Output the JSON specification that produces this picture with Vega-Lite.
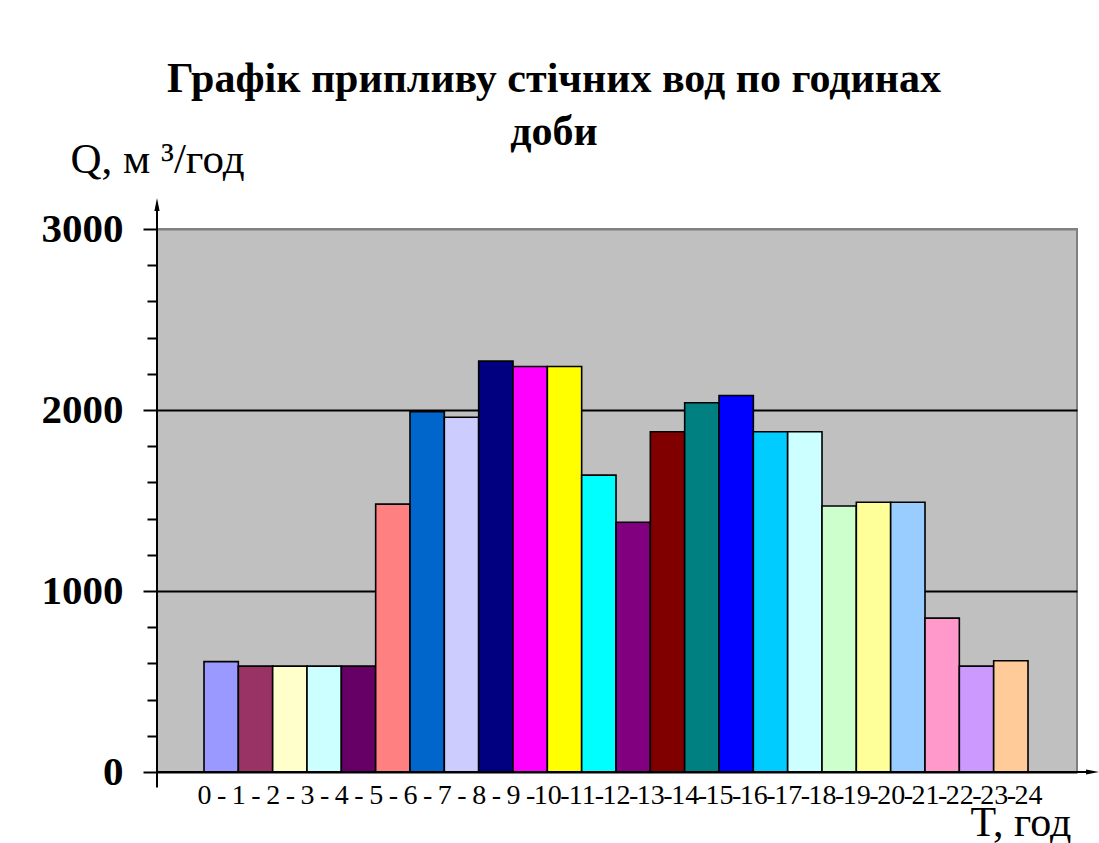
{
  "$schema": "https://vega.github.io/schema/vega-lite/v6.json",
  "width": 920,
  "height": 543,
  "autosize": {"type": "none"},
  "padding": {"left": 157, "top": 229, "right": 22, "bottom": 71},
  "background": "white",
  "config": {
    "view": {"fill": "#C0C0C0", "stroke": "#808080", "strokeWidth": 2},
    "font": "Liberation Serif"
  },
  "title": {
    "text": ["Графік припливу стічних вод по годинах", "доби"],
    "font": "Liberation Serif",
    "fontSize": 42,
    "fontWeight": "bold",
    "color": "black",
    "anchor": "middle",
    "frame": "group",
    "dx": -63,
    "dy": 20,
    "lineHeight": 53
  },
  "datasets": {
    "flow": [
      {"period": "0-1", "start": 0, "end": 1, "q": 610},
      {"period": "1-2", "start": 1, "end": 2, "q": 585},
      {"period": "2-3", "start": 2, "end": 3, "q": 585},
      {"period": "3-4", "start": 3, "end": 4, "q": 585},
      {"period": "4-5", "start": 4, "end": 5, "q": 585},
      {"period": "5-6", "start": 5, "end": 6, "q": 1480},
      {"period": "6-7", "start": 6, "end": 7, "q": 1990},
      {"period": "7-8", "start": 7, "end": 8, "q": 1960},
      {"period": "8-9", "start": 8, "end": 9, "q": 2270},
      {"period": "9-10", "start": 9, "end": 10, "q": 2240},
      {"period": "10-11", "start": 10, "end": 11, "q": 2240},
      {"period": "11-12", "start": 11, "end": 12, "q": 1640},
      {"period": "12-13", "start": 12, "end": 13, "q": 1380},
      {"period": "13-14", "start": 13, "end": 14, "q": 1880},
      {"period": "14-15", "start": 14, "end": 15, "q": 2040},
      {"period": "15-16", "start": 15, "end": 16, "q": 2080},
      {"period": "16-17", "start": 16, "end": 17, "q": 1880},
      {"period": "17-18", "start": 17, "end": 18, "q": 1880},
      {"period": "18-19", "start": 18, "end": 19, "q": 1470},
      {"period": "19-20", "start": 19, "end": 20, "q": 1490},
      {"period": "20-21", "start": 20, "end": 21, "q": 1490},
      {"period": "21-22", "start": 21, "end": 22, "q": 850},
      {"period": "22-23", "start": 22, "end": 23, "q": 585},
      {"period": "23-24", "start": 23, "end": 24, "q": 615}
    ]
  },
  "layer": [
    {
      "data": {"name": "flow"},
      "mark": {"type": "bar", "stroke": "black", "strokeWidth": 1.6},
      "encoding": {
        "x": {
          "field": "start",
          "type": "quantitative",
          "scale": {"domain": [-1.369, 25.427], "nice": false, "zero": false, "padding": 0},
          "axis": {
            "values": [0, 0.5, 1, 1.5, 2, 2.5, 3, 3.5, 4, 4.5, 5, 5.5, 6, 6.5, 7, 7.5, 8, 8.5, 9, 9.5, 10, 10.5, 11, 11.5, 12, 12.5, 13, 13.5, 14, 14.5, 15, 15.5, 16, 16.5, 17, 17.5, 18, 18.5, 19, 19.5, 20, 20.5, 21, 21.5, 22, 22.5, 23, 23.5, 24],
            "labelExpr": "datum.value % 1 === 0 ? '' + datum.value : '-'",
            "ticks": false,
            "domain": false,
            "grid": false,
            "labelFont": "Liberation Serif",
            "labelFontSize": 28,
            "labelColor": "black",
            "labelPadding": 9,
            "labelOverlap": false,
            "labelFlush": false,
            "labelBound": false,
            "title": "T, год",
            "titleX": 813,
            "titleY": 63,
            "titleAlign": "left",
            "titleBaseline": "alphabetic",
            "titleAngle": 0,
            "titleFont": "Liberation Serif",
            "titleFontSize": 42,
            "titleFontWeight": "normal",
            "titleColor": "black"
          }
        },
        "x2": {"field": "end"},
        "y": {
          "field": "q",
          "type": "quantitative",
          "scale": {"domain": [0, 3000], "nice": false, "padding": 0},
          "axis": {
            "orient": "left",
            "values": [0, 1000, 2000, 3000],
            "format": "d",
            "tickSize": 14,
            "tickWidth": 2,
            "tickColor": "black",
            "domain": false,
            "grid": true,
            "gridColor": {"condition": {"test": "datum.value === 3000", "value": "#808080"}, "value": "black"},
            "gridWidth": 2,
            "labelFont": "Liberation Serif",
            "labelFontSize": 41,
            "labelFontWeight": "bold",
            "labelColor": "black",
            "labelPadding": 20,
            "title": "Q, м ³/год",
            "titleAngle": 0,
            "titleX": -87,
            "titleY": -57,
            "titleAlign": "left",
            "titleBaseline": "alphabetic",
            "titleFont": "Liberation Serif",
            "titleFontSize": 43,
            "titleFontWeight": "normal",
            "titleColor": "black"
          }
        },
        "y2": {"datum": 0},
        "color": {
          "field": "period",
          "type": "nominal",
          "legend": null,
          "scale": {
            "domain": ["0-1", "1-2", "2-3", "3-4", "4-5", "5-6", "6-7", "7-8", "8-9", "9-10", "10-11", "11-12", "12-13", "13-14", "14-15", "15-16", "16-17", "17-18", "18-19", "19-20", "20-21", "21-22", "22-23", "23-24"],
            "range": ["#9999FF", "#993366", "#FFFFCC", "#CCFFFF", "#660066", "#FF8080", "#0066CC", "#CCCCFF", "#000080", "#FF00FF", "#FFFF00", "#00FFFF", "#800080", "#800000", "#008080", "#0000FF", "#00CCFF", "#CCFFFF", "#CCFFCC", "#FFFF99", "#99CCFF", "#FF99CC", "#CC99FF", "#FFCC99"]
          }
        }
      }
    },
    {
      "data": {"values": [{}]},
      "mark": {"type": "rule", "color": "black", "strokeWidth": 2},
      "encoding": {
        "x": {"datum": -1.369, "type": "quantitative", "axis": null},
        "y": {
          "datum": -85,
          "type": "quantitative",
          "axis": {
            "orient": "left",
            "values": [200, 400, 600, 800, 1200, 1400, 1600, 1800, 2200, 2400, 2600, 2800],
            "tickSize": 10,
            "tickWidth": 2,
            "tickColor": "black",
            "labels": false,
            "domain": false,
            "grid": false,
            "title": null
          }
        },
        "y2": {"datum": 3130}
      }
    },
    {
      "data": {"values": [{}]},
      "mark": {"type": "rule", "color": "black", "strokeWidth": 2},
      "encoding": {
        "x": {"datum": -1.369, "type": "quantitative", "axis": null},
        "x2": {"datum": 25.8},
        "y": {"datum": 0, "type": "quantitative", "axis": null}
      }
    },
    {
      "data": {"values": [{}]},
      "mark": {"type": "point", "shape": "M0,-1L0.4,1L-0.4,1Z", "filled": true, "color": "black", "opacity": 1, "size": 169},
      "encoding": {
        "x": {"datum": -1.369, "type": "quantitative", "axis": null},
        "y": {"datum": 3135, "type": "quantitative", "axis": null}
      }
    },
    {
      "data": {"values": [{}]},
      "mark": {"type": "point", "shape": "M1,0L-1,-0.4L-1,0.4Z", "filled": true, "color": "black", "opacity": 1, "size": 169},
      "encoding": {
        "x": {"datum": 25.88, "type": "quantitative", "axis": null},
        "y": {"datum": 0, "type": "quantitative", "axis": null}
      }
    }
  ],
  "resolve": {"axis": {"x": "independent", "y": "independent"}}
}
